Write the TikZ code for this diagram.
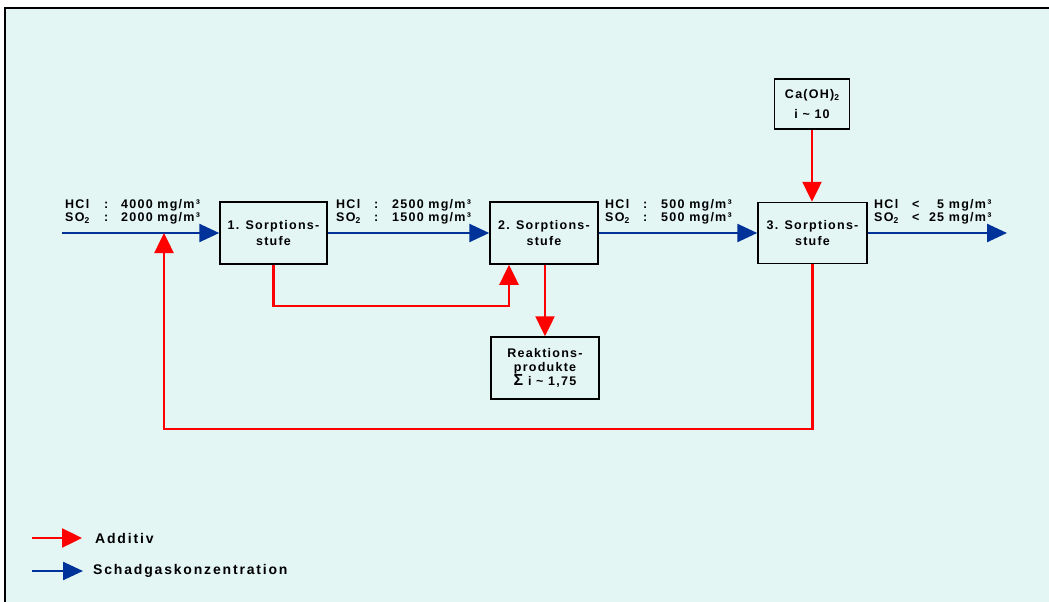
\documentclass[tikz,border=0pt]{standalone}
\usepackage{fontspec}
\setmainfont{Liberation Sans}[LetterSpace=10]
\usetikzlibrary{arrows.meta}
\definecolor{bg}{HTML}{E3F6F4}
\definecolor{gasblue}{HTML}{003399}
\definecolor{addred}{HTML}{FF0000}
\newcommand{\subtwo}{\raisebox{-2.5pt}{\fontsize{8.5}{8}\selectfont 2}}
\newcommand{\cm}{mg/m³}
\begin{document}
\begin{tikzpicture}[x=1pt,y=-1pt,
  box/.style={draw=black,line width=1.5pt,inner sep=0pt,align=center,
    font=\fontsize{12.5}{16}\selectfont\bfseries},
  gas/.style={draw=gasblue,line width=2.5pt,-{Triangle[length=20pt,width=18pt]}},
  add/.style={draw=addred,line width=2.5pt,-{Triangle[length=20pt,width=19pt]}},
  lab/.style={anchor=base west,inner sep=0pt,font=\fontsize{12.5}{13}\selectfont\bfseries},
  leg/.style={anchor=west,inner sep=0pt,font=\fontsize{14}{15}\selectfont\bfseries\addfontfeature{LetterSpace=13}},
]
\useasboundingbox (0,0) rectangle (1049,602);
\fill[white] (0,0) rectangle (1049,602);
\fill[bg] (5,8) rectangle (1049,602);
\draw[line width=2pt,black] (5,602) -- (5,8) -- (1049,8);

% boxes
\node[box,minimum width=107pt,minimum height=62pt] (b1) at (273.5,233) {1. Sorptions-\\stufe};
\node[box,minimum width=108pt,minimum height=62pt] (b2) at (544,233) {2. Sorptions-\\stufe};
\node[box,minimum width=109pt,minimum height=61pt] (b3) at (812.5,233) {3. Sorptions-\\stufe};
\node[box,minimum width=108pt,minimum height=62pt,font=\fontsize{12.5}{14}\selectfont\bfseries] (rp) at (545,368)
  {Reaktions-\\produkte\\{\fontsize{16}{14}\selectfont Σ} i \textasciitilde{} 1,75};
\node[box,minimum width=75pt,minimum height=50pt,font=\fontsize{12.5}{20}\selectfont\bfseries] (ca) at (812,104)
  {Ca(OH)\subtwo\\i \textasciitilde{} 10};

% coordinates
\coordinate (in) at (62,233);
\coordinate (out) at (1007,233);
\coordinate (j) at (164,233);

% gas flow
\draw[gas] (in) -- (b1.west);
\draw[gas] (b1.east) -- (b2.west);
\draw[gas] (b2.east) -- (b3.west);
\draw[gas] (b3.east) -- (out);

% additive flow
\draw[add] (ca.south) -- (ca.south |- b3.north);
\draw[add] (b1.south) -- ++(0,41) -| ([xshift=-35pt]b2.south);
\draw[add] ([xshift=1pt]b2.south) -- ([xshift=1pt]b2.south |- rp.north);
\draw[add] (b3.south) -- (b3.south |- 0,429) -| (j);

% labels
\node[lab] (l1a) at (65,208) {\makebox[39pt][l]{HCl}\makebox[17pt][l]{:}4000 \cm};
\node[lab] (l1b) at (65,221) {\makebox[39pt][l]{SO\subtwo}\makebox[17pt][l]{:}2000 \cm};
\node[lab] (l2a) at (336,208) {\makebox[38pt][l]{HCl}\makebox[18pt][l]{:}2500 \cm};
\node[lab] (l2b) at (336,221) {\makebox[38pt][l]{SO\subtwo}\makebox[18pt][l]{:}1500 \cm};
\node[lab] (l3a) at (605,208) {\makebox[38pt][l]{HCl}\makebox[18pt][l]{:}500 \cm};
\node[lab] (l3b) at (605,221) {\makebox[38pt][l]{SO\subtwo}\makebox[18pt][l]{:}500 \cm};
\node[lab] (l4a) at (874,208) {\makebox[38pt][l]{HCl}\makebox[10pt][l]{<}\makebox[22pt][r]{5} \cm};
\node[lab] (l4b) at (874,221) {\makebox[38pt][l]{SO\subtwo}\makebox[10pt][l]{<}\makebox[22pt][r]{25} \cm};

% legend
\coordinate (ra) at (32,538);
\coordinate (rb) at (82,538);
\coordinate (ba) at (32,571);
\coordinate (bb) at (83,571);
\draw[add] (ra) -- (rb);
\draw[gas] (ba) -- (bb);
\node[leg] (t1) at (95,538) {Additiv};
\node[leg] (t2) at (93,571) {Schadgaskonzentration};
\end{tikzpicture}
\end{document}
